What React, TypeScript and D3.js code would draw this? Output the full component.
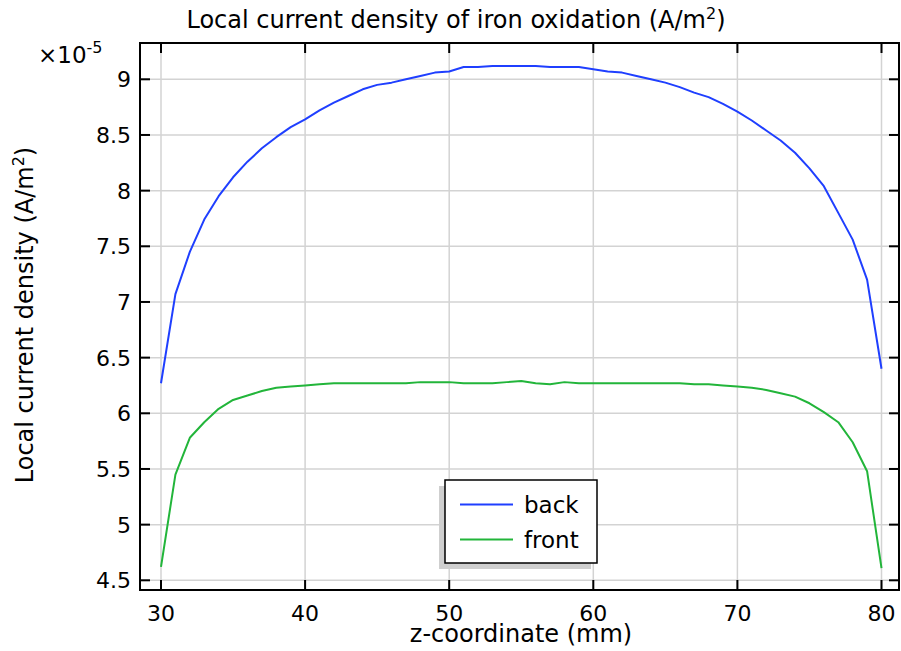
import React from "react";
import * as d3 from "d3";

const zCoord = d3.range(30, 81);
const backValues = [
  6.27, 7.07, 7.45, 7.74, 7.95, 8.12, 8.26, 8.38, 8.48, 8.57,
  8.64, 8.72, 8.79, 8.85, 8.91, 8.95, 8.97, 9.0, 9.03, 9.06,
  9.07, 9.11, 9.11, 9.12, 9.12, 9.12, 9.12, 9.11, 9.11, 9.11,
  9.09, 9.07, 9.06, 9.03, 9.0, 8.97, 8.93, 8.88, 8.84, 8.78,
  8.71, 8.63, 8.54, 8.45, 8.34, 8.2, 8.04, 7.8, 7.56, 7.2, 6.4,
];
const frontValues = [
  4.62, 5.45, 5.78, 5.92, 6.04, 6.12, 6.16, 6.2, 6.23, 6.24,
  6.25, 6.26, 6.27, 6.27, 6.27, 6.27, 6.27, 6.27, 6.28, 6.28,
  6.28, 6.27, 6.27, 6.27, 6.28, 6.29, 6.27, 6.26, 6.28, 6.27,
  6.27, 6.27, 6.27, 6.27, 6.27, 6.27, 6.27, 6.26, 6.26, 6.25,
  6.24, 6.23, 6.21, 6.18, 6.15, 6.09, 6.01, 5.92, 5.74, 5.48, 4.61,
];
const xTicks = [30, 40, 50, 60, 70, 80];
const yTicks = [4.5, 5, 5.5, 6, 6.5, 7, 7.5, 8, 8.5, 9];
const seriesNames = ["back", "front"];
const seriesColors = ["#1f3fff", "#22b53a"];

const FONT = "'DejaVu Sans', sans-serif";

export default function App() {
  const W = 901, H = 651;
  const left = 140, right = 899, top = 43, bottom = 590;
  const x = d3.scaleLinear().domain([30, 80]).range([161, 881.5]);
  const y = d3.scaleLinear().domain([4.5, 9]).range([580.3, 79.3]);
  const line = d3.line<[number, number]>().x((d) => x(d[0])).y((d) => y(d[1]));
  const series = [backValues, frontValues].map((vals) =>
    zCoord.map((z, i) => [z, vals[i]] as [number, number])
  );
  const tickLen = 10;
  const legX = 445, legY = 480, legW = 152, legH = 83;

  return (
    <svg width={W} height={H} style={{ position: "absolute", left: 0, top: 0 }}>
      <rect x={0} y={0} width={W} height={H} fill="#fff" />
      {xTicks.map((t) => (
        <line key={"gx" + t} x1={x(t)} x2={x(t)} y1={top} y2={bottom} stroke="#d3d3d3" strokeWidth={1.5} />
      ))}
      {yTicks.map((t) => (
        <line key={"gy" + t} x1={left} x2={right} y1={y(t)} y2={y(t)} stroke="#d3d3d3" strokeWidth={1.5} />
      ))}
      {series.map((s, i) => (
        <path key={"s" + i} d={line(s) || ""} fill="none" stroke={seriesColors[i]} strokeWidth={2} strokeLinejoin="round" />
      ))}
      <rect x={left} y={top} width={right - left} height={bottom - top} fill="none" stroke="#000" strokeWidth={2} />
      {xTicks.map((t) => (
        <g key={"tx" + t}>
          <line x1={x(t)} x2={x(t)} y1={bottom} y2={bottom - tickLen} stroke="#000" strokeWidth={2} />
          <line x1={x(t)} x2={x(t)} y1={top} y2={top + tickLen} stroke="#000" strokeWidth={2} />
          <text x={x(t)} y={621} textAnchor="middle" fontFamily={FONT} fontSize={22} fill="#000">{t}</text>
        </g>
      ))}
      {yTicks.map((t) => (
        <g key={"ty" + t}>
          <line x1={left} x2={left + tickLen} y1={y(t)} y2={y(t)} stroke="#000" strokeWidth={2} />
          <line x1={right} x2={right - tickLen} y1={y(t)} y2={y(t)} stroke="#000" strokeWidth={2} />
          <text x={131} y={y(t)} dy="0.36em" textAnchor="end" fontFamily={FONT} fontSize={22} fill="#000">{t}</text>
        </g>
      ))}
      <text x={38} y={63} fontFamily={FONT} fontSize={23} fill="#000">
        ×10<tspan dy={-10} fontSize={16}>-5</tspan>
      </text>
      <text x={456} y={28} textAnchor="middle" fontFamily={FONT} fontSize={24} fill="#000">
        Local current density of iron oxidation (A/m<tspan dy={-9} fontSize={16}>2</tspan><tspan dy={9}>)</tspan>
      </text>
      <text x={521} y={642} textAnchor="middle" fontFamily={FONT} fontSize={24} fill="#000">z-coordinate (mm)</text>
      <text transform="translate(33,315) rotate(-90)" textAnchor="middle" fontFamily={FONT} fontSize={24} fill="#000">
        Local current density (A/m<tspan dy={-9} fontSize={16}>2</tspan><tspan dy={9}>)</tspan>
      </text>
      <rect x={legX - 6} y={legY + 6} width={legW} height={legH} fill="#cfcfcf" />
      <rect x={legX} y={legY} width={legW} height={legH} fill="#fff" stroke="#000" strokeWidth={1.5} />
      {seriesNames.map((n, i) => (
        <g key={"lg" + n}>
          <line x1={460} x2={513} y1={504.5 + i * 35} y2={504.5 + i * 35} stroke={seriesColors[i]} strokeWidth={2} />
          <text x={524} y={504.5 + i * 35} dy="0.35em" fontFamily={FONT} fontSize={23} fill="#000">{n}</text>
        </g>
      ))}
    </svg>
  );
}
